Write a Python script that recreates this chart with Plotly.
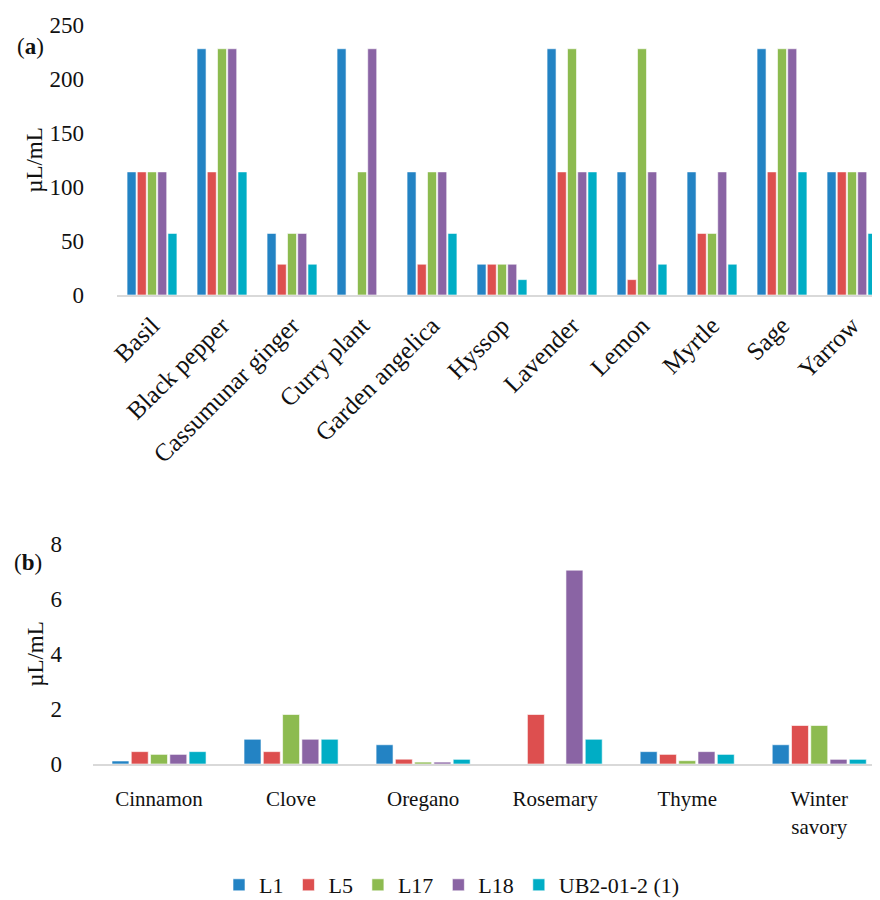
import plotly.graph_objects as go

cats_a = ["Basil", "Black pepper", "Cassumunar ginger", "Curry plant", "Garden angelica",
          "Hyssop", "Lavender", "Lemon", "Myrtle", "Sage", "Yarrow"]
a_L1 = [114, 228, 57, 228, 114, 28.5, 228, 114, 114, 228, 114]
a_L5 = [114, 114, 28.5, 0, 28.5, 28.5, 114, 14.25, 57, 114, 114]
a_L17 = [114, 228, 57, 114, 114, 28.5, 228, 228, 57, 228, 114]
a_L18 = [114, 228, 57, 228, 114, 28.5, 114, 114, 114, 228, 114]
a_UB = [57, 114, 28.5, 0, 57, 14.25, 114, 28.5, 28.5, 114, 57]

cats_b = ["Cinnamon", "Clove", "Oregano", "Rosemary", "Thyme", "Winter<br>savory"]
b_L1 = [0.11, 0.9, 0.7, 0, 0.45, 0.7]
b_L5 = [0.45, 0.45, 0.175, 1.8, 0.35, 1.4]
b_L17 = [0.35, 1.8, 0.07, 0, 0.12, 1.4]
b_L18 = [0.35, 0.9, 0.07, 7.05, 0.45, 0.17]
b_UB = [0.45, 0.9, 0.17, 0.9, 0.35, 0.17]

series_names = ["L1", "L5", "L17", "L18", "UB2-01-2 (1)"]
colors = ["#2383C4", "#DD4F4F", "#8DBB50", "#8A64A4", "#00ADC5"]

FONT = "Liberation Serif"

fig = go.Figure()
for name, col, va, vb in zip(series_names, colors,
                             [a_L1, a_L5, a_L17, a_L18, a_UB],
                             [b_L1, b_L5, b_L17, b_L18, b_UB]):
    fig.add_trace(go.Bar(x=cats_a, y=va, name=name, marker_color=col,
                         marker_line=dict(color="rgba(255,255,255,0.6)", width=1),
                         xaxis="x", yaxis="y", legendgroup=name, showlegend=True))
    fig.add_trace(go.Bar(x=cats_b, y=vb, name=name, marker_color=col,
                         marker_line=dict(color="rgba(255,255,255,0.6)", width=1),
                         xaxis="x2", yaxis="y2", legendgroup=name, showlegend=False))

# page has an 8px body margin; figure is placed at (8, 8)
OFF = 8.0
W = 880.0 - OFF
H = 900.0 - OFF


def px(x):
    return (x - OFF) / W


def py(y):
    return 1 - (y - OFF) / H


fig.update_layout(
    width=int(W), height=int(H),
    margin=dict(l=0, r=0, t=0, b=0, autoexpand=False),
    paper_bgcolor="white", plot_bgcolor="white",
    font=dict(family=FONT, size=22, color="#111"),
    barmode="group", bargap=0.27, bargroupgap=0.12,
    xaxis=dict(domain=[px(117), 1], anchor="y", showgrid=False, tickangle=-45,
               showline=True, linecolor="#d9d9d9", linewidth=2, ticks="",
               automargin=False, ticklabelstandoff=4,
               tickfont=dict(size=25), range=[-0.5, 10.4]),
    yaxis=dict(domain=[py(295), py(25)], anchor="x", range=[0, 250],
               dtick=50, showgrid=False, zeroline=False, showline=False,
               automargin=False, ticklabelstandoff=32, tickfont=dict(size=23),
               title=dict(text="µL/mL", font=dict(size=23), standoff=0)),
    xaxis2=dict(domain=[px(93), 1], anchor="y2", showgrid=False, tickangle=0,
                showline=True, linecolor="#d9d9d9", linewidth=2, ticks="",
                automargin=False, ticklabelstandoff=15,
                tickfont=dict(size=21), range=[-0.5, 5.46]),
    yaxis2=dict(domain=[py(764), py(544)], anchor="x2", range=[0, 8],
                dtick=2, showgrid=False, zeroline=False, showline=False,
                automargin=False, ticklabelstandoff=30, tickfont=dict(size=23),
                title=dict(text="µL/mL", font=dict(size=23), standoff=0)),
    legend=dict(orientation="h", x=px(452), xanchor="center", y=py(885), yanchor="middle",
                font=dict(size=22), itemwidth=30, traceorder="normal"),
    annotations=[
        dict(text="(<b>a</b>)", x=px(15), y=py(47), xref="paper", yref="paper",
             xanchor="left", yanchor="middle", showarrow=False, font=dict(size=23)),
        dict(text="(<b>b</b>)", x=px(12), y=py(562), xref="paper", yref="paper",
             xanchor="left", yanchor="middle", showarrow=False, font=dict(size=23)),
    ],
)

fig.write_html("out.html")
